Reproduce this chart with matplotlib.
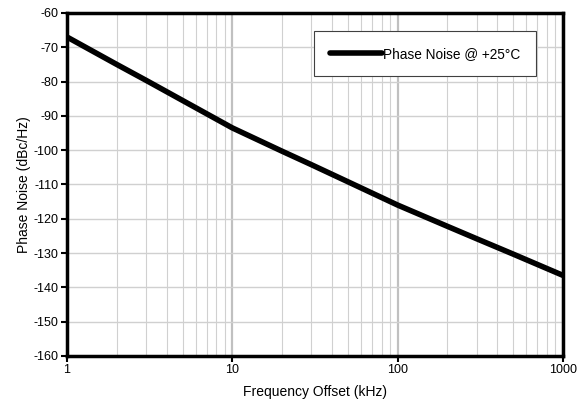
import numpy as np
import matplotlib.pyplot as plt
from matplotlib.ticker import FixedLocator, NullFormatter

plt.rcParams['font.family'] = ['Liberation Sans', 'DejaVu Sans']
plt.rcParams['axes.unicode_minus'] = False

# Data
freq_khz = [1, 2, 3, 5, 10, 20, 30, 50, 100, 200, 300, 500, 1000]
phase_noise = [-67.0, -75.0, -79.6, -85.5, -93.5, -100.3, -104.2, -109.2,
               -116.0, -122.2, -125.8, -130.3, -136.5]
x_ticks = [1, 10, 100, 1000]
x_labels = ['1', '10', '100', '1000']
y_ticks = list(range(-160, -59, 10))

fig = plt.figure(figsize=(5.77, 4.12), dpi=100)
ax = fig.add_axes([67 / 577, 1 - 356 / 412, (563 - 67) / 577, (356 - 13) / 412])

ax.plot(freq_khz, phase_noise, color='black', lw=4, solid_capstyle='round',
        label='Phase Noise @ +25°C', zorder=3)

ax.set_xscale('log')
ax.set_xlim(1, 1000)
ax.set_ylim(-160, -60)
ax.set_xticks(x_ticks)
ax.set_xticklabels(x_labels)
ax.xaxis.set_minor_locator(FixedLocator(
    [m * d for d in (1, 10, 100) for m in range(2, 10)]))
ax.xaxis.set_minor_formatter(NullFormatter())
ax.set_yticks(y_ticks)

ax.grid(which='major', axis='y', color='#d0d0d0', lw=1)
ax.grid(which='major', axis='x', color='#c0c0c0', lw=1.6)
ax.grid(which='minor', axis='x', color='#d0d0d0', lw=0.8)

for s in ax.spines.values():
    s.set_linewidth(2.5)
ax.tick_params(which='major', length=4, width=1.5, labelsize=9, pad=2)
ax.tick_params(which='minor', length=0)

ax.set_xlabel('Frequency Offset (kHz)', fontsize=10, labelpad=6)
ax.set_ylabel('Phase Noise (dBc/Hz)', fontsize=10, labelpad=2)

leg = ax.legend(loc='upper right', bbox_to_anchor=(0.9456, 0.9475), fontsize=9.8,
                fancybox=False, framealpha=1, edgecolor='#404040',
                handlelength=3.8, handletextpad=0.1, borderpad=1.15,
                borderaxespad=0)
leg.get_frame().set_linewidth(0.8)

fig.savefig('out.png', dpi=100)
